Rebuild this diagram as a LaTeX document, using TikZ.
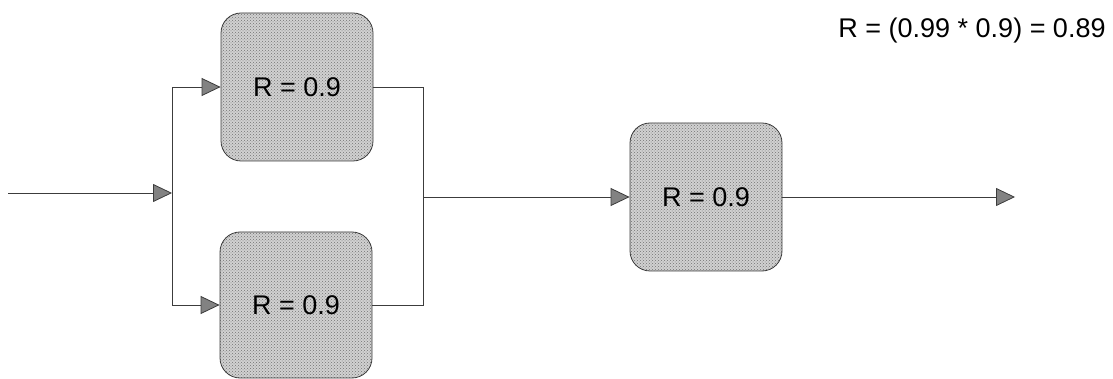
\documentclass[tikz,border=0pt]{standalone}
\usepackage{fontspec}
\setmainfont{Liberation Sans}
\usetikzlibrary{positioning, arrows.meta, patterns}
\definecolor{wireclr}{RGB}{60, 60, 60}
\definecolor{tipgray}{RGB}{130, 130, 130}

\begin{document}
\begin{tikzpicture}[x=1pt, y=-1pt, font=\fontsize{27}{30}\selectfont,
    block/.style={draw=wireclr, line width=0.8pt, rounded corners=20pt,
      minimum width=152pt, minimum height=148pt, inner sep=0pt,
      preaction={fill=black!18}, pattern=crosshatch dots, pattern color=black!55},
    wire/.style={draw=wireclr, line width=0.8pt},
    flow/.style={wire, -{Triangle[length=19pt, width=18pt, fill=tipgray]}}]
  \useasboundingbox (0,0) rectangle (1113,379);

  \node[block] (b1) at (297, 87)  {R = 0.9};
  \node[block, minimum height=146pt] (b2) at (296, 305) {R = 0.9};
  \node[block] (b3) at (706, 197) {R = 0.9};

  \coordinate (in)  at (8, 193);
  \coordinate (j)   at (172, 193);
  \coordinate (m)   at (423, 197);
  \coordinate (out) at (1015, 197);

  \draw[flow] (in) -- (j);
  \draw[flow] (j) |- (b1.west);
  \draw[flow] (j) |- (b2.west);
  \draw[wire] (b1.east) -| (m);
  \draw[wire] (b2.east) -| (m);
  \draw[flow] (m) -- (b3.west);
  \draw[flow] (b3.east) -- (out);

  % overall reliability
  \node (rel) at (972, 31) {R = (0.99 * 0.9) = 0.89};
\end{tikzpicture}
\end{document}
